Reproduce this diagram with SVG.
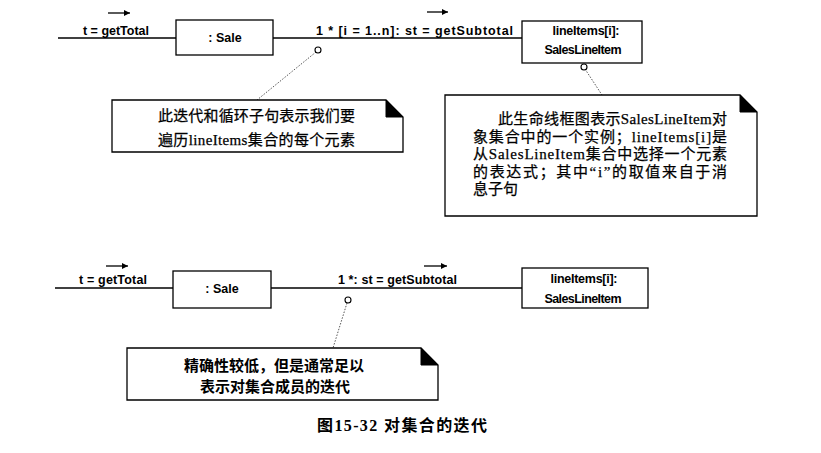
<svg xmlns="http://www.w3.org/2000/svg" width="821" height="453" viewBox="0 0 821 453">
<defs>
<marker id="ah" viewBox="0 0 10 10" refX="10" refY="5" markerWidth="8" markerHeight="6" orient="auto" markerUnits="userSpaceOnUse"><path d="M0,0 L10,5 L0,10 Z" fill="#000"/></marker>
</defs>
<style>
.box{fill:#fff;stroke:#000;stroke-width:1.3}
.note{fill:#fff;stroke:#000;stroke-width:1.3}
.fold{fill:#000;stroke:#000;stroke-width:1}
.link{stroke:#000;stroke-width:1.3;fill:none}
.dot{stroke:#444;stroke-width:0.9;stroke-dasharray:1.5 1.5;fill:none}
.pin{fill:#fff;stroke:#000;stroke-width:1.1}
.dir{stroke:#000;stroke-width:1.3;marker-end:url(#ah)}
.lbl{font-family:"Liberation Sans",Arial,sans-serif;font-size:12.5px;font-weight:bold;fill:#000}
.mid{text-anchor:middle}
.ntxt{font-family:"Liberation Serif","Noto Sans CJK SC",serif;font-size:15px;fill:#000;stroke:#000;stroke-width:0.25}
.btxt{font-family:"Noto Sans CJK SC",sans-serif;font-size:15px;font-weight:bold;fill:#000;text-anchor:middle}
.cap{font-family:"Liberation Serif","Noto Sans CJK SC",serif;font-size:16px;font-weight:bold;fill:#000}
</style>
<rect width="821" height="453" fill="#fff"/>

<g id="connectors">
<line class="link" x1="58" y1="38" x2="176" y2="38"/>
<line class="link" x1="273" y1="38" x2="522" y2="38"/>
<line class="link" x1="55" y1="288" x2="173" y2="288"/>
<line class="link" x1="271" y1="288" x2="522" y2="288"/>
<line class="dir" x1="108" y1="13" x2="130" y2="13"/>
<line class="dir" x1="427" y1="12" x2="448" y2="12"/>
<line class="dir" x1="106" y1="266" x2="128" y2="266"/>
<line class="dir" x1="424" y1="266" x2="447" y2="266"/>
<text class="lbl" x="83" y="35" textLength="66">t = getTotal</text>
<text class="lbl" x="316" y="35" textLength="197">1 * [i = 1..n]: st = getSubtotal</text>
<text class="lbl" x="79" y="284" textLength="68">t = getTotal</text>
<text class="lbl" x="338" y="284" textLength="119">1 *: st = getSubtotal</text>
<line class="dot" x1="316" y1="52" x2="257" y2="100"/>
<circle class="pin" cx="318" cy="50" r="3"/>
<line class="dot" x1="585" y1="69" x2="602" y2="95"/>
<circle class="pin" cx="584" cy="67" r="3"/>
<line class="dot" x1="347" y1="303" x2="333" y2="348"/>
<circle class="pin" cx="348" cy="300" r="3"/>
</g>

<g id="sale1">
<rect class="box" x="176" y="20" width="97" height="35"/>
<text class="lbl mid" x="225" y="42">: Sale</text>
</g>
<g id="lineitems1">
<rect class="box" x="522" y="21" width="120" height="42"/>
<text class="lbl mid" x="586" y="35" textLength="67">lineItems[i]:</text>
<text class="lbl mid" x="583" y="54" textLength="77">SalesLineItem</text>
</g>
<g id="note1">
<path class="note" d="M112,100 H386 L403,117 V152 H112 Z"/>
<path class="fold" d="M386,100 L403,117 H386 Z"/>
<text class="ntxt" x="158" y="121" textLength="197">此迭代和循环子句表示我们要</text>
<text class="ntxt" x="158" y="145" textLength="197">遍历lineItems集合的每个元素</text>
</g>
<g id="note2">
<path class="note" d="M445,95 H740 L757,112 V216 H445 Z"/>
<path class="fold" d="M740,95 L757,112 H740 Z"/>
<text class="ntxt" x="498" y="124" textLength="229">此生命线框图表示SalesLineItem对</text>
<text class="ntxt" x="473" y="142" textLength="254">象集合中的一个实例；lineItems[i]是</text>
<text class="ntxt" x="473" y="159" textLength="254">从SalesLineItem集合中选择一个元素</text>
<text class="ntxt" x="473" y="177" textLength="254">的表达式；其中“i”的取值来自于消</text>
<text class="ntxt" x="473" y="194">息子句</text>
</g>

<g id="sale2">
<rect class="box" x="173" y="271" width="98" height="37"/>
<text class="lbl mid" x="222" y="293">: Sale</text>
</g>
<g id="lineitems2">
<rect class="box" x="522" y="268" width="126" height="40"/>
<text class="lbl mid" x="584" y="283" textLength="67">lineItems[i]:</text>
<text class="lbl mid" x="583" y="303" textLength="77">SalesLineItem</text>
</g>
<g id="note3">
<path class="note" d="M127,348 H421 L438,365 V400 H127 Z"/>
<path class="fold" d="M421,348 L438,365 H421 Z"/>
<text class="btxt" x="274" y="371">精确性较低，但是通常足以</text>
<text class="btxt" x="275" y="392">表示对集合成员的迭代</text>
</g>

<text class="cap" x="317" y="431" textLength="170">图15-32 对集合的迭代</text>
</svg>
